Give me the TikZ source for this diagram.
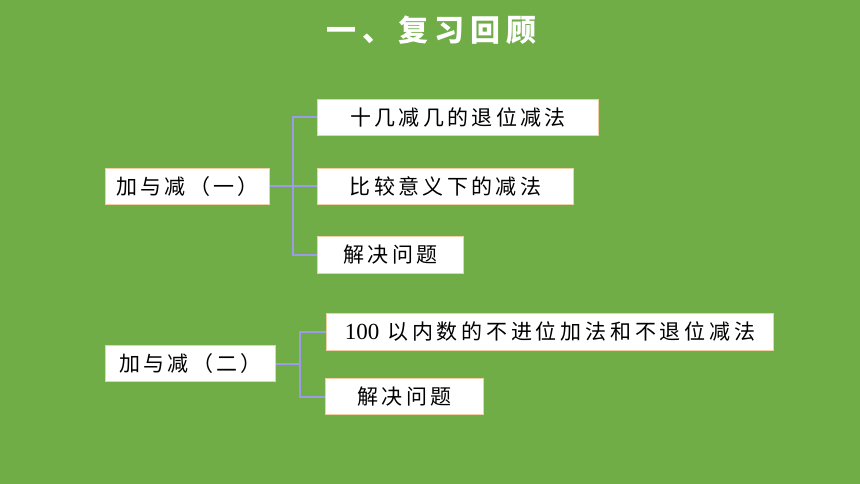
\documentclass[tikz,border=0pt]{standalone}
\usepackage{fontspec}
\newfontfamily\cjk[LetterSpace=16]{Noto Sans CJK SC}
\newfontfamily\cjkwide[LetterSpace=18]{Noto Sans CJK SC}
\newfontfamily\cjktitle[LetterSpace=20]{Noto Sans CJK SC}
\newfontfamily\numfont{Liberation Serif}
\definecolor{bg}{HTML}{70AD47}
\definecolor{boxline}{HTML}{F2CFA6}
\definecolor{conn}{HTML}{9C9CE6}
\tikzset{
  x=1pt,y=-1pt,
  itembox/.style={draw=boxline, line width=1pt, fill=white, anchor=north west, inner sep=0pt,
     font=\cjk\fontsize{21}{24}\selectfont, text=black, align=center},
  connline/.style={draw=conn, line width=2pt},
  titletext/.style={font=\cjktitle\bfseries\fontsize{30}{34}\selectfont, text=white}
}
\begin{document}
\begin{tikzpicture}
\fill[bg] (0,0) rectangle (860,484);
\useasboundingbox (0,0) rectangle (860,484);
\node[titletext] (title) at (431,30) {一、复习回顾};
% group 1
\node[itembox, minimum width=164pt, minimum height=36pt] (A) at (105,168) {加与减（一）};
\node[itembox, minimum width=281pt, minimum height=36pt] (B1) at (317,99) {十几减几的退位减法};
\node[itembox, minimum width=256pt, minimum height=36pt] (B2) at (317,168) {比较意义下的减法};
\node[itembox, minimum width=146pt, minimum height=37pt] (B3) at (317,236) {解决问题};
\coordinate (j1) at (293,0);
\draw[connline] (B1.west) -- (B1.west -| j1) |- (B3.west);
\draw[connline] (A.east) -- (B2.west);
% group 2
\node[itembox, minimum width=170pt, minimum height=36pt] (C) at (105,345) {加与减（二）};
\node[itembox, minimum width=447pt, minimum height=37pt] (D1) at (326,313) {{\numfont\fontsize{23}{24}\selectfont 100} {\cjkwide 以内数的不进位加法和不退位减法}};
\node[itembox, minimum width=158pt, minimum height=36pt] (D2) at (325,378) {解决问题};
\coordinate (j2) at (300,0);
\draw[connline] (D1.west) -- (D1.west -| j2) |- (D2.west);
\draw[connline] (C.east) -- (C.east -| j2);
\end{tikzpicture}
\end{document}
